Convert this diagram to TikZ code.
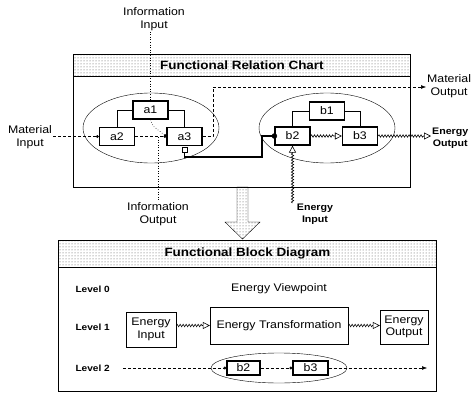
\documentclass[tikz,border=0pt]{standalone}
\usepackage{fontspec}
\setmainfont{Liberation Sans}[FakeStretch=1.12]
\usetikzlibrary{arrows.meta,positioning,calc,patterns,shapes.geometric,decorations.pathmorphing}

\begin{document}
\begin{tikzpicture}[x=1pt,y=-1pt,font=\fontsize{11}{12.5}\selectfont,>=Latex,
 fr/.style={draw,thick,anchor=north west,inner sep=0pt},
 hd/.style={draw,thick,anchor=north west,inner sep=0pt,pattern=dots,pattern color=black!70,font=\fontsize{12}{14}\selectfont\bfseries},
 grp/.style={draw,ellipse,inner sep=0pt},
 fb/.style={draw,line width=1.2pt,fill=white,minimum width=35,minimum height=18,inner sep=0pt},
 bx/.style={draw,align=center,inner sep=2pt},
 lv/.style={anchor=west,font=\fontsize{9}{10}\selectfont\bfseries},
 lb/.style={align=center,inner sep=1pt},
 eb/.style={align=center,inner sep=1pt,font=\fontsize{9.5}{12}\selectfont\bfseries},
 mf/.style={densely dashed},
 inf/.style={dotted,semithick},
 en/.style={semithick,decorate,decoration={snake,amplitude=1.2pt,segment length=3pt,post length=7pt}},
 dt/.style={-{Circle[length=3pt]}},
 oa/.style={-{Triangle[open,length=7pt,width=7pt]}}]
 \useasboundingbox (0,0) rectangle (472,394);
 \node[fr,minimum width=337,minimum height=133](rc) at (73,54){};
 \node[hd,minimum width=337,minimum height=22](rch) at (73,54){Functional Relation Chart};
 \node[grp,minimum width=136,minimum height=70](ga) at (151,128){};
 \node[grp,minimum width=136,minimum height=70](gb) at (327,128){};
 \node[fb](a1) at (150.5,110){a1};
 \node[fb](a2) at (117,136.5){a2};
 \node[fb](a3) at (184.5,136.5){a3};
 \node[fb](b1) at (327,111){b1};
 \node[fb](b2) at (292.5,136){b2};
 \node[fb](b3) at (360,136){b3};
 \node[draw,thick,fill=white,minimum size=5,inner sep=0pt](a3p) at (184.5,150){};
 \node[lb](iin) at (154,19){Information\\Input};
 \node[lb](min) at (30,137){Material\\Input};
 \node[lb](iout) at (158,214){Information\\Output};
 \node[eb](ein) at (315,214){Energy\\Input};
 \node[lb,anchor=west](mout) at (426,86){Material\\Output};
 \node[eb,anchor=west](eout) at (431,138){Energy\\Output};
 \coordinate (ik) at (153,126);
 \coordinate (io) at (158,137);
 \coordinate (mk) at (213,87);
 \coordinate (ek) at (262,157);
 \coordinate (es) at (292.5,203);
 \draw[thick](a1.west) -| (a2.north);
 \draw[thick](a1.east) -| (a3.north);
 \draw[thick](b1.west) -| (b2.north);
 \draw[thick](b1.east) -| (b3.north);
 \draw[mf,dt](min.east |- a2.west) -- (a2.west);
 \draw[mf,dt](a2) -- (a3);
 \draw[mf,->](a3.east) -| (mk) -- (mk -| mout.west);
 \draw[inf](a1.north |- iin.south) -- (a1.north);
 \draw[inf,dt](a1.south) -- (ik) -- (a3.west);
 \draw[inf](io) -- (iout.north);
 \draw[line width=1.2pt](a3p.south) |- (ek) |- (b2.west);
 \node[circle,fill,draw,minimum size=5,inner sep=0pt](b2p) at (b2.west){};
 \draw[en,oa](b2) -- (b3);
 \draw[en,oa](b3.east) -- (b3.east -| eout.west);
 \draw[en,oa](es) -- (b2.south);
 \draw[pattern=dots,pattern color=black!70](237,187) -- (248,187) -- (248,222) -- (260,222)
  -- (242.5,239) -- (225,222) -- (237,222) -- cycle;
 \node[fr,minimum width=378,minimum height=151](bd) at (58,240){};
 \node[hd,minimum width=378,minimum height=27](bdh) at (58,240){Functional Block Diagram};
 \node[lv](lv0) at (72,289){Level 0};
 \node[lv](lv1) at (72,327){Level 1};
 \node[lv](lv2) at (72,368){Level 2};
 \node(vp) at (279,289){Energy Viewpoint};
 \node[bx,minimum width=50,minimum height=35](bi) at (151,329.5){Energy\\Input};
 \node[bx,minimum width=138,minimum height=37](bt) at (279,325.5){Energy Transformation};
 \node[bx,minimum width=48,minimum height=34](bo) at (404,327){Energy\\Output};
 \draw[en,oa](bi.east |- bt) -- (bt.west);
 \draw[en,oa](bt.east) -- (bt.east -| bo.west);
 \node[grp,minimum width=136,minimum height=30](gc) at (279,368){};
 \node[fb,minimum width=33,minimum height=14](c2) at (243.5,368){b2};
 \node[fb,minimum width=35,minimum height=14](c3) at (310.5,368){b3};
 \coordinate (ls) at (123,368);
 \coordinate (le) at (427,368);
 \draw[mf,dt](ls) -- (c2.west);
 \draw[mf,dt](c2) -- (c3);
 \draw[mf,->](c3.east) -- (le);
\end{tikzpicture}
\end{document}
